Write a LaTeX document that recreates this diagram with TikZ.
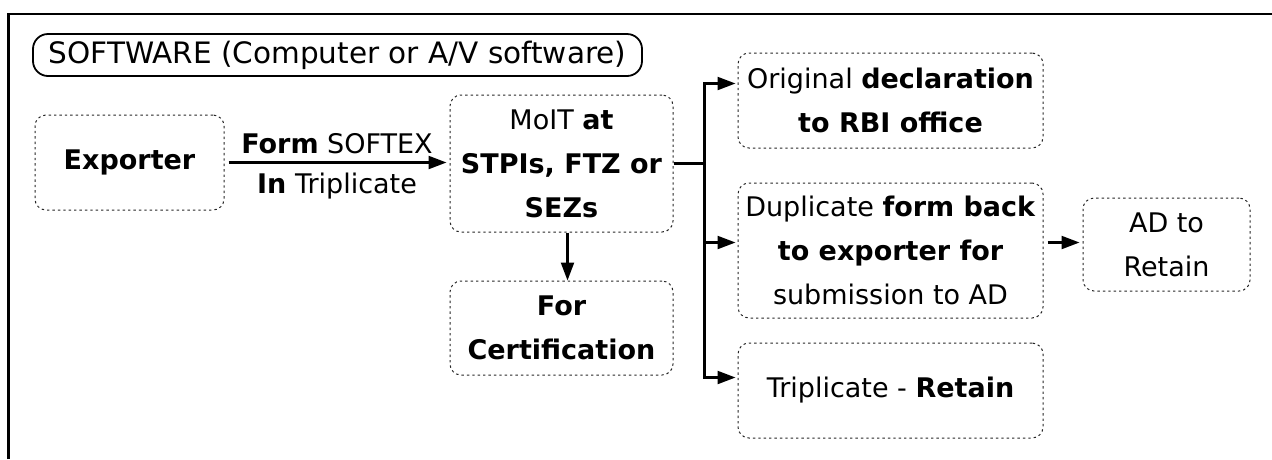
\documentclass[tikz,border=0pt]{standalone}
\usepackage{fontspec}
\setmainfont{DejaVu Sans}
\usetikzlibrary{arrows.meta,calc}
\begin{document}
\begin{tikzpicture}[x=1pt,y=-1pt,
  box/.style={draw=black!85, line width=1pt, dash pattern=on 2.4pt off 3pt,
    rounded corners=11pt, align=center, inner sep=0pt,
    font=\fontsize{27}{44}\selectfont},
  lbl/.style={font=\fontsize{27}{32}\selectfont},
  link/.style={line width=2.2pt, black},
  arr/.style={link, -{Triangle[length=18pt,width=13pt]}},
]
\useasboundingbox (0,0) rectangle (1272,459);

% open outer frame
\draw[line width=2.2pt] (8.5,459) -- (8.5,14) -- (1272,14);

% heading
\node[draw, line width=1.8pt, rounded corners=15pt, minimum width=609pt,
  minimum height=42pt, inner sep=0pt, font=\fontsize{29.5}{35}\selectfont]
  (title) at (337.5,55) {SOFTWARE (Computer or A/V software)};

% process boxes
\node[box, minimum width=189pt, minimum height=95pt] (exp) at (129.5,162.5)
  {\textbf{Exporter}};
\node[box, minimum width=223pt, minimum height=137pt] (moit) at (561.5,163.5)
  {MoIT \textbf{at}\\\textbf{STPIs, FTZ or}\\\textbf{SEZs}};
\node[box, minimum width=223pt, minimum height=94pt] (cert) at (561.5,328)
  {\textbf{For}\\\textbf{Certification}};
\node[box, minimum width=305pt, minimum height=95pt] (orig) at (890.5,100.5)
  {Original \textbf{declaration}\\\textbf{to RBI office}};
\node[box, minimum width=305pt, minimum height=135pt] (dup) at (890.5,250.5)
  {Duplicate \textbf{form back}\\\textbf{to exporter for}\\submission to AD};
\node[box, minimum width=305pt, minimum height=95pt] (trip) at (890.5,390.5)
  {Triplicate - \textbf{Retain}};
\node[box, minimum width=167pt, minimum height=93pt] (ad) at (1166.5,244.5)
  {AD to\\Retain};

% connectors
\draw[arr, shorten <=4pt, shorten >=3pt] (exp.east) -- (exp.east -| moit.west)
  node[lbl, midway, above=4pt] {\textbf{Form} SOFTEX}
  node[lbl, midway, below=6pt] {\textbf{In} Triplicate};
\draw[arr] ([xshift=6pt]moit.south) -- ([xshift=6pt]cert.north);

\coordinate (j) at ($(moit.east)+(31,0)$);
\draw[link] (moit.east) -- (j);
\draw[arr, shorten >=2pt] (j) |- ([yshift=17pt]orig.west);
\draw[arr, shorten >=2pt] (j) |- ([yshift=8pt]dup.west);
\draw[arr, shorten >=2pt] (j) |- ([yshift=13pt]trip.west);
\draw[arr, shorten <=4pt, shorten >=3pt] ([yshift=8pt]dup.east) -- ([yshift=8pt]dup.east -| ad.west);
\end{tikzpicture}
\end{document}
